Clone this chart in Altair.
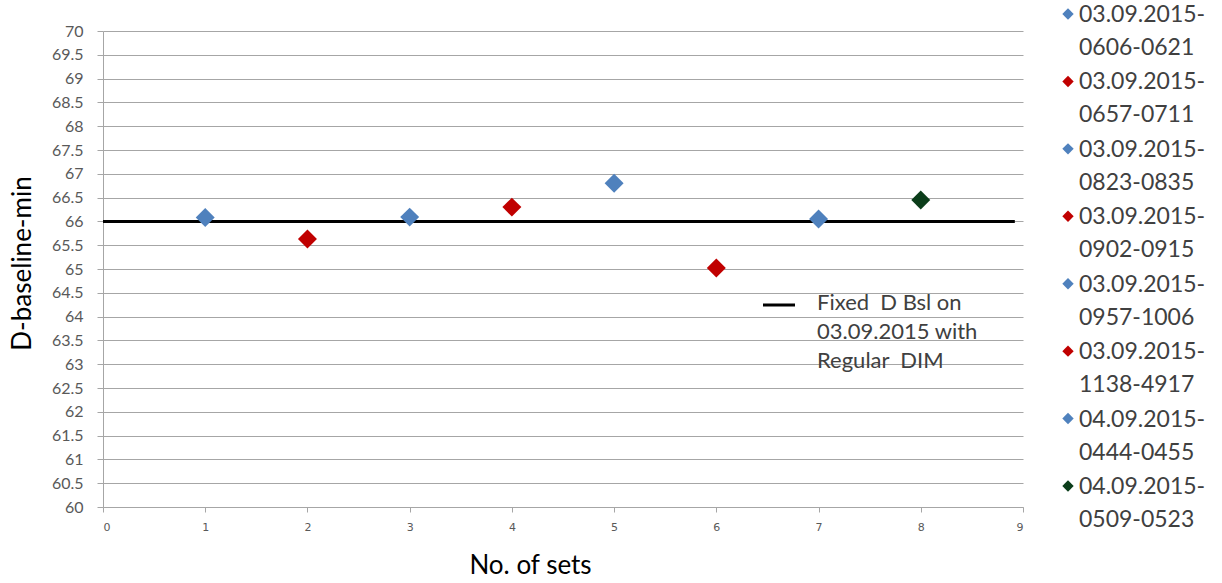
import altair as alt
import pandas as pd

# ---- data ----
sets = [1, 2, 3, 4, 5, 6, 7, 8]
values = [66.08, 65.63, 66.09, 66.30, 66.80, 65.02, 66.05, 66.45]
series = [
    "03.09.2015-\n0606-0621",
    "03.09.2015-\n0657-0711",
    "03.09.2015-\n0823-0835",
    "03.09.2015-\n0902-0915",
    "03.09.2015-\n0957-1006",
    "03.09.2015-\n1138-4917",
    "04.09.2015-\n0444-0455",
    "04.09.2015-\n0509-0523",
]
series_colors = ["#4F81BD", "#C00000", "#4F81BD", "#C00000",
                 "#4F81BD", "#C00000", "#4F81BD", "#0B3D1A"]

baseline_name = "Fixed\u00a0\u00a0D Bsl on\n03.09.2015 with\nRegular\u00a0\u00a0DIM"
baseline_x = [0, 8.92]
baseline_y = [66, 66]

x_ticks = [0, 1, 2, 3, 4, 5, 6, 7, 8, 9]
y_ticks = [60, 60.5, 61, 61.5, 62, 62.5, 63, 63.5, 64, 64.5, 65, 65.5,
           66, 66.5, 67, 67.5, 68, 68.5, 69, 69.5, 70]

pts = pd.DataFrame({"set": sets, "value": values, "series": series})
base = pd.DataFrame({"x": baseline_x, "y": baseline_y,
                     "name": [baseline_name] * len(baseline_x)})
leg_df = pd.DataFrame({"series": series})
line_leg_df = pd.DataFrame({"name": [baseline_name]})

GRID = "#A6A6A6"
TXT = "#404040"

x_scale = alt.Scale(domain=[0, 9], nice=False, zero=False)
y_scale = alt.Scale(domain=[60, 70], nice=False, zero=False)
fill_scale = alt.Scale(domain=series, range=series_colors)

x_axis = alt.Axis(values=x_ticks, grid=False, title="No. of sets",
                  labelFont="DejaVu Sans", labelFontSize=11, labelColor="#595959",
                  labelPadding=9, tickSize=5, tickColor=GRID, domainColor=GRID,
                  titleFont="Lato", titleFontSize=26, titleFontWeight="normal",
                  titleColor="#000000", titleX=427, titleY=58,
                  titleAlign="center", titleBaseline="middle")
y_axis = alt.Axis(values=y_ticks, grid=True, gridColor=GRID, title="D-baseline-min",
                  format="~g",
                  labelFont="Lato", labelFontSize=16, labelColor="#595959",
                  labelPadding=14, tickSize=6, tickColor=GRID, domainColor=GRID,
                  titleFont="Lato", titleFontSize=26, titleFontWeight="normal",
                  titleColor="#000000", titleX=-81, titleY=232, titleAngle=270,
                  titleAlign="center", titleBaseline="middle", labelFlush=False)

line = alt.Chart(base).mark_line(strokeWidth=3, color="#000000").encode(
    x=alt.X("x:Q", scale=x_scale, axis=x_axis),
    y=alt.Y("y:Q", scale=y_scale, axis=y_axis),
)

points = alt.Chart(pts).mark_point(shape="diamond", filled=True, size=360,
                                   opacity=1, strokeWidth=0).encode(
    x=alt.X("set:Q", scale=x_scale, axis=x_axis),
    y=alt.Y("value:Q", scale=y_scale, axis=y_axis),
    fill=alt.Fill("series:N", scale=fill_scale, legend=None),
)

# in-plot legend entry for the baseline
line_leg_sym = alt.Chart(line_leg_df).mark_rule(strokeWidth=3, color="#000000").encode(
    x=alt.value(660), x2=alt.value(692), y=alt.value(274),
)
line_leg_txt = alt.Chart(line_leg_df).mark_text(
    align="left", baseline="top", lineBreak="\n", lineHeight=29, font="Lato",
    fontSize=22, color=TXT, dy=-10).encode(
    x=alt.value(714), y=alt.value(272), text="name:N",
)

main = alt.layer(line, points, line_leg_sym, line_leg_txt)

# right-hand legend
leg_y = alt.Y("series:N", scale=alt.Scale(type="point", domain=series,
                                           range=[-17, 455], padding=0), axis=None)
leg_sym = alt.Chart(leg_df).mark_point(shape="diamond", filled=True, size=130,
                                       opacity=1, strokeWidth=0).encode(
    x=alt.value(965), y=leg_y,
    fill=alt.Fill("series:N", scale=fill_scale, legend=None),
)
leg_txt = alt.Chart(leg_df).mark_text(
    align="left", baseline="top", lineBreak="\n", lineHeight=33, font="Lato",
    fontSize=23, color=TXT, dy=-10).encode(
    x=alt.value(976), y=leg_y, text="series:N",
)
legend = alt.layer(leg_sym, leg_txt)

chart = alt.layer(main, legend).resolve_scale(y="independent").properties(
    width=920, height=476,
    autosize=alt.AutoSizeParams(type="none"),
    padding={"left": 103, "top": 31, "right": 199, "bottom": 76},
    background="#FFFFFF",
).configure_view(stroke=None)

chart.save("out.html", embed_options={"renderer": "svg", "actions": False})
